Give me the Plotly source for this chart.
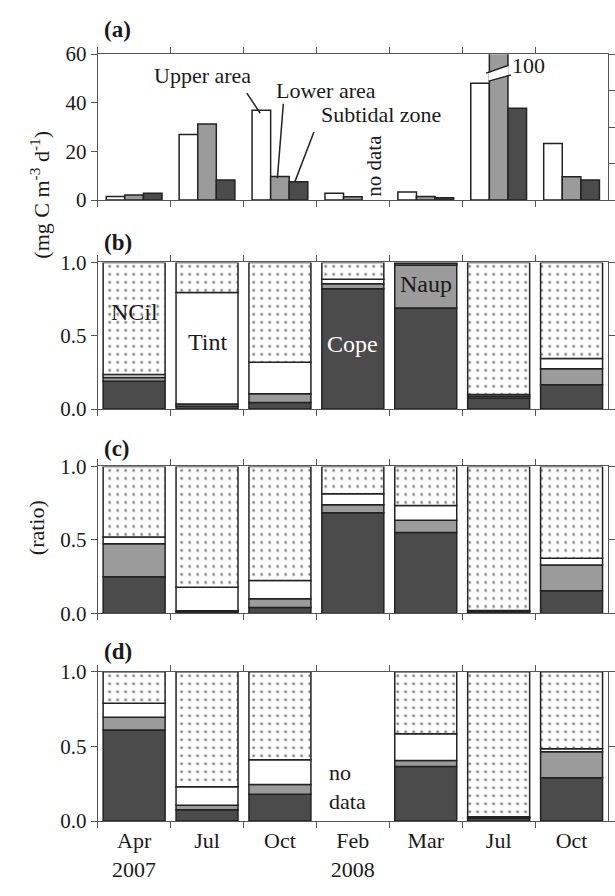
import plotly.graph_objects as go

categories = ["Apr 2007", "Jul 2007", "Oct 2007", "Feb 2008", "Mar 2008", "Jul 2008", "Oct 2008"]
tick_text = ["Apr<br>2007", "Jul", "Oct", "Feb<br>2008", "Mar", "Jul", "Oct"]

# Panel (a): production (mg C m-3 d-1)
upper_area = [1.5, 27.0, 36.9, 2.8, 3.3, 48.0, 23.3]
lower_area = [2.1, 31.3, 9.7, 1.4, 1.5, 100, 9.6]
subtidal_zone = [2.8, 8.3, 7.6, None, 1.0, 37.8, 8.3]

# Panels (b)-(d): ratios (bottom to top: Cope, Naup, Tint, NCil)
cope_b = [0.19, 0.02, 0.045, 0.82, 0.69, 0.075, 0.165]
naup_b = [0.025, 0.015, 0.06, 0.035, 0.29, 0.012, 0.11]
tint_b = [0.02, 0.76, 0.215, 0.03, 0.012, 0.013, 0.07]
ncil_b = [0.765, 0.205, 0.68, 0.115, 0.008, 0.90, 0.655]

cope_c = [0.25, 0.012, 0.04, 0.685, 0.55, 0.012, 0.155]
naup_c = [0.225, 0.006, 0.06, 0.055, 0.085, 0.004, 0.175]
tint_c = [0.045, 0.16, 0.125, 0.075, 0.10, 0.004, 0.045]
ncil_c = [0.48, 0.822, 0.775, 0.185, 0.265, 0.98, 0.625]

cope_d = [0.61, 0.075, 0.18, None, 0.365, 0.018, 0.29]
naup_d = [0.085, 0.03, 0.065, None, 0.04, 0.005, 0.175]
tint_d = [0.095, 0.125, 0.165, None, 0.18, 0.005, 0.02]
ncil_d = [0.21, 0.77, 0.59, None, 0.415, 0.972, 0.515]

# ---- styles ----
FONT = "Liberation Serif"
TXT = "#1a1a1a"
DARK = "#4b4b4b"
GREY = "#9b9b9b"
WHITE = "#ffffff"
EDGE = "#222222"
AXC = "#555555"
W = 615
H = 896

fig = go.Figure()

# panel (a) grouped bars
bw = 0.255
for vals, col, off in [(upper_area, WHITE, -1.5 * bw), (lower_area, GREY, -0.5 * bw), (subtidal_zone, DARK, 0.5 * bw)]:
    fig.add_trace(go.Bar(x=categories, y=vals, width=bw, offset=off,
                         marker=dict(color=col, line=dict(color=EDGE, width=1.5)),
                         xaxis="x", yaxis="y", showlegend=False, hoverinfo="skip"))

# invisible trace so the right axis of panel (a) is drawn
fig.add_trace(go.Scatter(x=[categories[0]], y=[0], mode="markers", marker=dict(opacity=0),
                         xaxis="x", yaxis="y5", showlegend=False, hoverinfo="skip"))


def stacked(panel_axes, layers):
    xa, ya = panel_axes
    base = [0.0] * len(categories)
    for vals, col, pat in layers:
        b = list(base)
        marker = dict(color=col, line=dict(color=EDGE, width=1.5))
        if pat:
            marker["pattern"] = dict(shape=".", fgcolor="#000000", bgcolor=WHITE, size=8,
                                     solidity=0.1, fillmode="overlay")
        fig.add_trace(go.Bar(x=categories, y=vals, base=b, width=0.85,
                             marker=marker, xaxis=xa, yaxis=ya,
                             showlegend=False, hoverinfo="skip"))
        base = [bb + (v if v is not None else 0) for bb, v in zip(base, vals)]


stacked(("x2", "y2"), [(cope_b, DARK, False), (naup_b, GREY, False), (tint_b, WHITE, False), (ncil_b, WHITE, True)])
stacked(("x3", "y3"), [(cope_c, DARK, False), (naup_c, GREY, False), (tint_c, WHITE, False), (ncil_c, WHITE, True)])
stacked(("x4", "y4"), [(cope_d, DARK, False), (naup_d, GREY, False), (tint_d, WHITE, False), (ncil_d, WHITE, True)])

xdom = [98.3 / W, 612.0 / W]


def ydom(top, bot):
    return [1 - bot / H, 1 - top / H]


tickfont = dict(family=FONT, size=21, color=TXT)
xcommon = dict(type="category", categoryorder="array", categoryarray=categories,
               range=[-0.5, 6.5], tickson="boundaries", ticks="outside", ticklen=6,
               tickcolor=AXC, showline=True, linecolor=AXC, linewidth=1,
               mirror="ticks", showgrid=False, zeroline=False, domain=xdom, fixedrange=True)
ycommon = dict(ticks="outside", ticklen=6, tickcolor=AXC, showline=True, linecolor=AXC,
               linewidth=1, showgrid=False, zeroline=False, tickfont=tickfont, fixedrange=True)

fig.update_layout(
    width=W, height=H, margin=dict(l=0, r=0, t=0, b=0),
    paper_bgcolor="white", plot_bgcolor="white", barmode="overlay",
    font=dict(family=FONT, color=TXT),
    xaxis=dict(**xcommon, anchor="y", showticklabels=False),
    yaxis=dict(**ycommon, domain=ydom(43.3, 193.3), range=[0, 60], tickvals=[0, 20, 40, 60], anchor="x"),
    yaxis5=dict(ticks="outside", ticklen=6, tickcolor=AXC, showline=True, linecolor=AXC, linewidth=1,
                showgrid=False, zeroline=False, overlaying="y", side="right", anchor="x",
                range=[0, 100], tickvals=[0, 25, 50, 75, 100], showticklabels=False, fixedrange=True),
    xaxis2=dict(**xcommon, anchor="y2", showticklabels=False),
    yaxis2=dict(**ycommon, domain=ydom(257.3, 408), range=[0, 1], tickvals=[0, 0.5, 1],
                ticktext=["0.0", "0.5", "1.0"], anchor="x2", mirror="ticks"),
    xaxis3=dict(**xcommon, anchor="y3", showticklabels=False),
    yaxis3=dict(**ycommon, domain=ydom(467, 618), range=[0, 1], tickvals=[0, 0.5, 1],
                ticktext=["0.0", "0.5", "1.0"], anchor="x3", mirror="ticks"),
    xaxis4=dict(**xcommon, anchor="y4", showticklabels=True, tickmode="array",
                tickvals=categories, ticktext=tick_text, tickfont=dict(family=FONT, size=22, color=TXT)),
    yaxis4=dict(**ycommon, domain=ydom(678, 831.3), range=[0, 1], tickvals=[0, 0.5, 1],
                ticktext=["0.0", "0.5", "1.0"], anchor="x4", mirror="ticks"),
)

# axis break on the tall "Lower area" bar (Jul 2008)
bi = categories.index("Jul 2008")
xl, xr = bi - 0.5 * bw - 0.01, bi + 0.5 * bw + 0.01
fig.add_shape(type="path", xref="x", yref="y",
              path=f"M{xl},48.9 L{xr},51.4 L{xr},55.4 L{xl},52.2 Z",
              fillcolor="white", line=dict(width=0), layer="above")
fig.add_shape(type="line", xref="x", yref="y", x0=bi - 0.67 * bw, y0=52.2, x1=xr, y1=55.4,
              line=dict(color=EDGE, width=1.5))
fig.add_shape(type="line", xref="x", yref="y", x0=xl, y0=48.9, x1=bi + 0.65 * bw, y1=51.4,
              line=dict(color=EDGE, width=1.5))

# leader lines in panel (a)
for (x0, y0, x1, y1) in [(1.546, 44.0, 1.729, 35.7), (2.047, 39.6, 1.965, 9.0), (2.466, 28.0, 2.207, 7.7)]:
    fig.add_shape(type="line", xref="x", yref="y", x0=x0, y0=y0, x1=x1, y1=y1,
                  line=dict(color=EDGE, width=1.5))

ann_font = dict(family=FONT, size=22, color=TXT)
for txt, x, y in [("Upper area", 0.932, 51.3), ("Lower area", 2.634, 44.9), ("Subtidal zone", 3.384, 35.3)]:
    fig.add_annotation(x=x, y=y, xref="x", yref="y", text=txt, showarrow=False, font=ann_font)
fig.add_annotation(x=5.403, y=55.5, xref="x", yref="y", text="100", showarrow=False, font=ann_font)
fig.add_annotation(x=3.289, y=14.1, xref="x", yref="y", text="no data", textangle=-90,
                   showarrow=False, font=dict(family=FONT, size=21, color=TXT))

# labels inside panel (b)
lab_font = dict(family=FONT, size=24, color=TXT)
fig.add_annotation(x=0, y=0.66, xref="x2", yref="y2", text="NCil", showarrow=False, font=lab_font)
fig.add_annotation(x=1, y=0.46, xref="x2", yref="y2", text="Tint", showarrow=False, font=lab_font)
fig.add_annotation(x=3, y=0.445, xref="x2", yref="y2", text="Cope", showarrow=False,
                   font=dict(family=FONT, size=24, color="white"))
fig.add_annotation(x=4, y=0.853, xref="x2", yref="y2", text="Naup", showarrow=False, font=lab_font)

# no data in panel (d)
fig.add_annotation(x=2.93, y=0.23, xref="x4", yref="y4", text="no<br>data", align="left",
                   showarrow=False, font=dict(family=FONT, size=22, color=TXT))

# panel letters
for lab, ypx in [("(a)", 18), ("(b)", 237), ("(c)", 449), ("(d)", 657)]:
    fig.add_annotation(x=103 / W, y=1 - ypx / H, xref="paper", yref="paper", xanchor="left",
                       yanchor="middle", text=f"<b>{lab}</b>", showarrow=False,
                       font=dict(family=FONT, size=23, color=TXT))

# y-axis titles
fig.add_annotation(x=24 / W, y=1 - 120 / H, xref="paper", yref="paper", textangle=-90,
                   text="(mg C m<sup>-3</sup> d<sup>-1</sup>)", showarrow=False,
                   font=dict(family=FONT, size=22, color=TXT))
fig.add_annotation(x=22 / W, y=1 - 530 / H, xref="paper", yref="paper", textangle=-90,
                   text="(ratio)", showarrow=False, font=dict(family=FONT, size=22, color=TXT))

fig.write_html("out.html")
